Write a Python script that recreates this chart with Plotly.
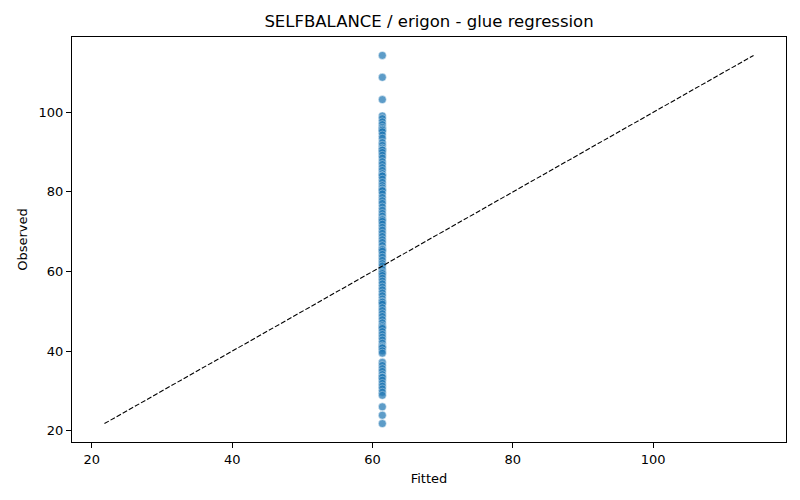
import plotly.graph_objects as go

# fitted value is the same for every block (glue model collapses to a constant)
fitted_value = 61.4

observed = [
    114.3, 108.8, 103.2,
    99.1, 98.4, 97.6, 96.9, 96.2, 95.8, 95.5, 95.1, 94.3, 93.5, 92.4, 91.7, 91.0,
    90.6, 90.5, 89.9, 89.2, 88.5, 87.6, 86.9, 86.1, 85.4, 84.6, 84.1, 84.0, 83.2,
    82.4, 81.6, 81.0, 80.5, 80.3, 79.5, 78.6, 77.8, 77.1, 76.2, 75.4, 74.6, 73.9,
    73.2, 73.0, 72.6, 71.9, 71.1, 70.4, 69.6, 68.8, 68.0, 67.3, 66.5, 65.7, 65.5,
    65.1, 64.3, 63.6, 62.8, 62.0, 61.4, 60.5, 59.8, 59.5, 59.0, 58.3, 57.6, 56.9,
    56.1, 55.4, 54.6, 53.9, 53.1, 52.5, 52.3, 51.8, 50.9, 50.2, 49.4, 48.7, 47.9,
    47.1, 46.4, 46.0, 45.7, 44.9, 44.2, 43.5, 42.8, 42.0, 41.3, 41.0, 40.8, 40.1,
    39.5,
    37.2, 36.4, 35.6, 34.9, 34.1, 33.5, 33.4, 32.7, 31.9, 31.2, 30.5, 29.7, 28.9,
    26.0, 23.9, 21.8,
]

fitted = [fitted_value for _ in observed]

lo = min(min(fitted), min(observed))
hi = max(max(fitted), max(observed))
pad = 0.05 * (hi - lo)
axis_range = [lo - pad, hi + pad]

fig = go.Figure()
fig.add_trace(go.Scatter(
    x=fitted, y=observed, mode='markers',
    marker=dict(color='#1f77b4', opacity=0.72, size=8,
                line=dict(color='white', width=0.5)),
    showlegend=False, hoverinfo='skip'))
fig.add_trace(go.Scatter(
    x=[lo, hi], y=[lo, hi], mode='lines',
    line=dict(color='black', width=1.1, dash='5px,2px'),
    showlegend=False, hoverinfo='skip'))

axis_style = dict(showgrid=False, zeroline=False, showline=True, linecolor='black',
                  linewidth=1, mirror=True, ticks='outside', ticklen=5,
                  tickcolor='black', tickwidth=1, dtick=20, range=axis_range,
                  automargin=False, tickfont=dict(size=13, color='black'))

# page body has an 8px margin, so the figure is offset by 8px in the screenshot
fig.update_layout(
    width=800, height=500,
    paper_bgcolor='white', plot_bgcolor='white',
    font=dict(family='DejaVu Sans', color='black'),
    margin=dict(l=64, r=22, t=29, b=66, autoexpand=False),
    title=dict(text='SELFBALANCE / erigon - glue regression', x=421 / 800,
               xanchor='center', y=1 - 13 / 500, yanchor='middle',
               font=dict(size=16.5, color='black')),
    xaxis=dict(title=dict(text='Fitted', font=dict(size=13), standoff=8), **axis_style),
    yaxis=dict(title=dict(text='Observed', font=dict(size=13), standoff=8), **axis_style),
)

fig.write_html("out.html")
